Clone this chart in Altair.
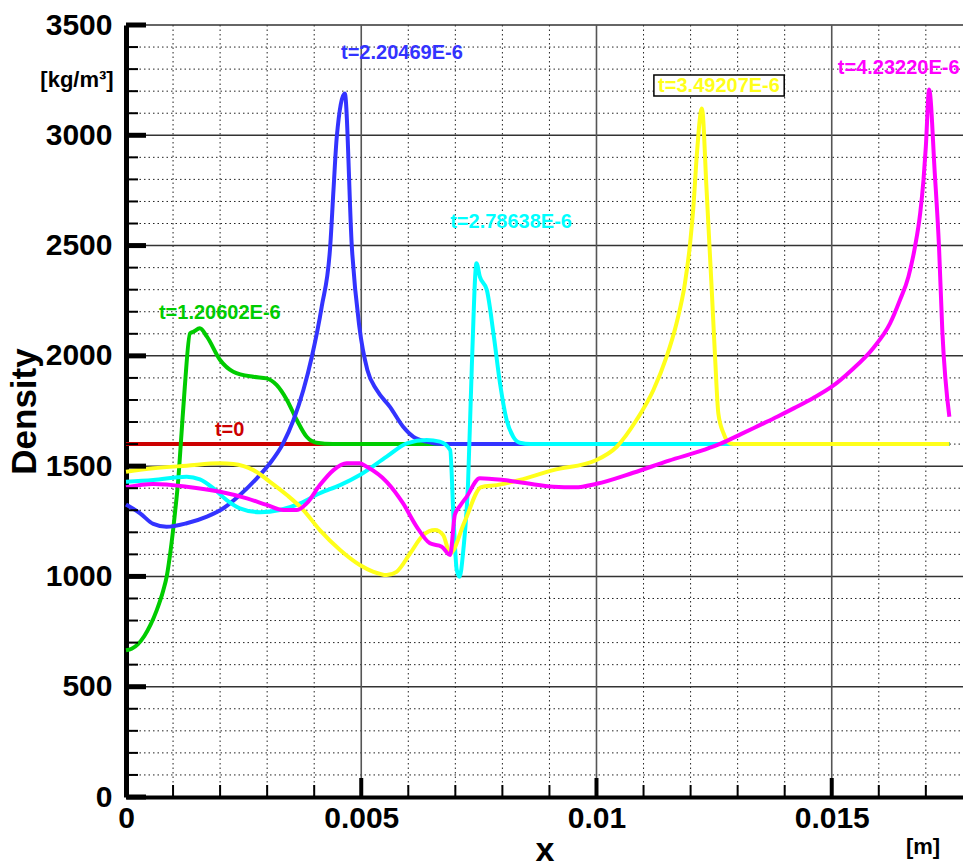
import altair as alt
import pandas as pd

# ---------------- data (x in mm, density in kg/m^3) ----------------
red_x = [0, 17.5]
red_y = [1600, 1600]

green_x = [0, 0.12, 0.25, 0.39, 0.52, 0.65, 0.79, 0.87, 0.94, 1.04, 1.11, 1.18, 1.25, 1.36, 1.43,
           1.57, 1.72, 2.0, 2.28, 2.71, 2.99, 3.2, 3.42, 3.63, 3.84, 4.05, 4.4, 17.5]
green_y = [665, 672, 692, 730, 780, 845, 935, 1005, 1105, 1286, 1437, 1649, 1860, 2102, 2109,
           2125, 2087, 1981, 1928, 1905, 1898, 1868, 1800, 1709, 1633, 1606, 1600, 1600]

blue_x = [0, 0.3, 0.58, 0.86, 1.29, 1.72, 2.07, 2.42, 2.78, 3.06, 3.34, 3.56, 3.77, 3.95, 4.16,
          4.34, 4.41, 4.48, 4.65, 4.8, 4.96, 5.13, 5.33, 5.61, 5.89, 6.11, 6.39, 6.7, 17.5]
blue_y = [1326, 1286, 1238, 1225, 1241, 1271, 1309, 1369, 1445, 1513, 1603, 1709, 1845, 1996, 2223,
          2495, 2752, 2993, 3190, 2495, 2132, 1936, 1845, 1769, 1679, 1633, 1611, 1600, 1600]

cyan_x = [0, 0.58, 1.29, 1.57, 1.86, 2.14, 2.42, 2.85, 3.27, 3.7, 4.12, 4.55, 4.97, 5.54, 5.97,
          6.39, 6.67, 6.89, 6.96, 7.03, 7.09, 7.17, 7.27, 7.35, 7.45, 7.52, 7.67, 7.81, 7.95,
          8.09, 8.23, 8.37, 8.6, 17.5]
cyan_y = [1429, 1437, 1452, 1440, 1399, 1346, 1309, 1291, 1301, 1331, 1377, 1414, 1460, 1543, 1603,
          1618, 1611, 1573, 1271, 1029, 999, 1120, 1422, 1951, 2420, 2359, 2298, 2102, 1875,
          1709, 1633, 1606, 1600, 1600]

yellow_x = [0, 0.58, 1.29, 2.0, 2.28, 2.71, 3.06, 3.42, 3.77, 4.12, 4.55, 4.97, 5.26, 5.54, 5.75,
            6.04, 6.32, 6.57, 6.74, 6.89, 7.2, 7.55, 7.88, 8.37, 9.08, 10.0, 10.43, 10.85, 11.21,
            11.49, 11.7, 11.88, 11.99, 12.06, 12.13, 12.24, 12.34, 12.45, 12.52, 12.59, 12.7,
            12.84, 13.0, 17.5]
yellow_y = [1475, 1490, 1502, 1513, 1510, 1482, 1429, 1369, 1301, 1210, 1120, 1052, 1021, 1006, 1021,
            1105, 1188, 1210, 1188, 1105, 1250, 1405, 1414, 1437, 1482, 1528, 1588, 1709, 1845,
            1996, 2147, 2329, 2510, 2676, 2903, 3122, 2752, 2298, 1996, 1739, 1649,
            1603, 1600, 1600]

magenta_x = [0, 0.58, 1.29, 2.0, 2.57, 2.99, 3.34, 3.63, 3.84, 4.12, 4.41, 4.69, 4.97, 5.12, 5.54,
             5.89, 6.18, 6.46, 6.71, 6.89, 6.99, 7.1, 7.24, 7.52, 8.02, 8.52, 9.08, 9.55, 10.0,
             10.78, 11.54, 12.3, 12.65, 13.07, 13.47, 13.84, 14.2, 14.6, 15.0, 15.42, 15.88,
             16.24, 16.45, 16.63, 16.77, 16.88, 16.95, 17.0, 17.07, 17.19, 17.28, 17.35, 17.5]
magenta_y = [1404, 1419, 1407, 1384, 1354, 1324, 1301, 1301, 1331, 1414, 1482, 1513, 1513, 1497, 1429,
             1331, 1225, 1150, 1135, 1097, 1280, 1320, 1361, 1445, 1437, 1422, 1407, 1404, 1420,
             1470, 1525, 1575, 1603, 1645, 1686, 1724, 1763, 1808, 1860, 1935, 2035,
             2147, 2253, 2359, 2495, 2647, 2797, 2948, 3208, 2829, 2495, 2117, 1724]

series_names = ["t=0", "t=1.20602E-6", "t=2.20469E-6", "t=2.78638E-6", "t=3.49207E-6", "t=4.23220E-6"]
series_x = [red_x, green_x, blue_x, cyan_x, yellow_x, magenta_x]
series_y = [red_y, green_y, blue_y, cyan_y, yellow_y, magenta_y]
series_colors = ["#cc0000", "#00cc00", "#3333ff", "#00ffff", "#ffff1a", "#ff00ff"]

# label anchors (left edge, vertical centre) in mm / density
label_x = [1.89, 0.70, 4.57, 6.89, 11.31, 15.13]
label_y = [1664, 2194, 3373, 2607, 3223, 3305]

# frame around the yellow label
box_x = [11.22, 13.99]
box_y = [3178, 3273]

y_major = [0, 500, 1000, 1500, 2000, 2500, 3000, 3500]
y_minor = [v for v in range(100, 3500, 100) if v % 500 != 0]
x_major_mm = [5, 10, 15]
x_minor_mm = [v for v in range(1, 18) if v % 5 != 0]

# ---------------- chart ----------------
W, H = 837, 772
FONT = "Liberation Sans"
XMAX = 0.01779

xs = alt.Scale(domain=[0, XMAX], nice=False, zero=False)
ys = alt.Scale(domain=[0, 3500], nice=False, zero=False)

X_AX = alt.Axis(values=[0, 0.005, 0.01, 0.015], format="~g", labelFont=FONT, labelFontWeight="bold",
                labelFontSize=30, labelColor="black", labelPadding=6, labelFlush=False,
                ticks=False, grid=False, domain=True, domainColor="black", domainWidth=4,
                title="x", titleFont=FONT, titleFontWeight="bold", titleFontSize=34,
                titleColor="black", titlePadding=0)
Y_AX = alt.Axis(values=y_major, format="d", labelFont=FONT, labelFontWeight="bold",
                labelFontSize=30, labelColor="black", labelPadding=14, labelFlush=False,
                ticks=False, grid=False, domain=True, domainColor="black", domainWidth=5,
                title="Density", titleFont=FONT, titleFontWeight="bold", titleFontSize=35,
                titleColor="black", titlePadding=3)


def X(field="x"):
    return alt.X(f"{field}:Q", scale=xs, axis=X_AX)


def Y(field="y"):
    return alt.Y(f"{field}:Q", scale=ys, axis=Y_AX)


layers = []

# minor grid
layers.append(alt.Chart(pd.DataFrame({"y": y_minor})).mark_rule(
    color="#222", strokeWidth=1, strokeDash=[1.5, 3]).encode(
    y=Y(), x=alt.value(0), x2=alt.value(W)))
layers.append(alt.Chart(pd.DataFrame({"x": [v / 1000 for v in x_minor_mm]})).mark_rule(
    color="#222", strokeWidth=1, strokeDash=[1.5, 3]).encode(
    x=X(), y=alt.value(0), y2=alt.value(H)))
# major grid
layers.append(alt.Chart(pd.DataFrame({"y": y_major[1:]})).mark_rule(
    color="#333", strokeWidth=1.5).encode(
    y=Y(), x=alt.value(0), x2=alt.value(W)))
layers.append(alt.Chart(pd.DataFrame({"x": [v / 1000 for v in x_major_mm]})).mark_rule(
    color="#555", strokeWidth=1.6).encode(
    x=X(), y=alt.value(0), y2=alt.value(H)))

# curves
for name, sx, sy, col in zip(series_names, series_x, series_y, series_colors):
    df = pd.DataFrame({"x": [v / 1000 for v in sx], "y": sy, "s": name})
    layers.append(alt.Chart(df).mark_line(color=col, strokeWidth=4, strokeJoin="round",
                                          interpolate="monotone",
                                          strokeCap="butt").encode(x=X(), y=Y(), order="x:Q"))

# inward ticks
layers.append(alt.Chart(pd.DataFrame({"y": y_major})).mark_rule(color="black", strokeWidth=5).encode(
    y=Y(), x=alt.value(0), x2=alt.value(20)))
layers.append(alt.Chart(pd.DataFrame({"y": y_minor})).mark_rule(color="black", strokeWidth=2).encode(
    y=Y(), x=alt.value(0), x2=alt.value(12)))
layers.append(alt.Chart(pd.DataFrame({"x": [v / 1000 for v in x_major_mm]})).mark_rule(
    color="black", strokeWidth=4).encode(x=X(), y=alt.value(H), y2=alt.value(H - 19)))
layers.append(alt.Chart(pd.DataFrame({"x": [v / 1000 for v in x_minor_mm]})).mark_rule(
    color="black", strokeWidth=2).encode(x=X(), y=alt.value(H), y2=alt.value(H - 12)))

# yellow label frame
layers.append(alt.Chart(pd.DataFrame({"x": [box_x[0] / 1000], "x2": [box_x[1] / 1000],
                                      "y": [box_y[0]], "y2": [box_y[1]]})).mark_rect(
    fill="white", stroke="black", strokeWidth=1.5).encode(
    x=X(), x2="x2:Q", y=Y(), y2="y2:Q"))

# curve labels
lab = pd.DataFrame({"x": [v / 1000 for v in label_x], "y": label_y, "t": series_names,
                    "c": series_colors})
layers.append(alt.Chart(lab).mark_text(align="left", baseline="middle", font=FONT,
                                       fontWeight="bold", fontSize=20).encode(
    x=X(), y=Y(), text="t:N", color=alt.Color("c:N", scale=None)))

# unit labels
layers.append(alt.Chart(pd.DataFrame({"t": ["[kg/m³]"]})).mark_text(
    align="center", baseline="alphabetic", font=FONT, fontWeight="bold", fontSize=22,
    color="black").encode(text="t:N", x=alt.value(-49), y=alt.value(62)))
layers.append(alt.Chart(pd.DataFrame({"t": ["[m]"]})).mark_text(
    align="center", baseline="alphabetic", font=FONT, fontWeight="bold", fontSize=22,
    color="black").encode(text="t:N", x=alt.value(797), y=alt.value(H + 57)))

chart = alt.layer(*layers).properties(
    width=W, height=H,
    padding={"left": 126, "top": 25, "right": 0, "bottom": 65},
    autosize=alt.AutoSizeParams(type="none"),
    background="white",
).configure_view(strokeWidth=0)

chart.save("out.html", embed_options={"renderer": "svg", "actions": False})
